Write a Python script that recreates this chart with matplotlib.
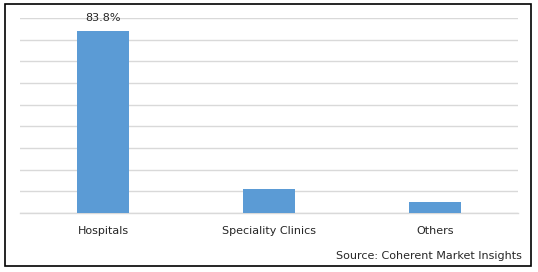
import matplotlib.pyplot as plt
from matplotlib.patches import Rectangle

categories = ["Hospitals", "Speciality Clinics", "Others"]
shares = [83.8, 11.1, 5.1]
bar_labels = ["83.8%", "", ""]

W, H = 538, 272
fig = plt.figure(figsize=(W / 100, H / 100), dpi=100)
ax = fig.add_axes([20 / W, (H - 213) / H, 498 / W, 195 / H])

x = range(len(categories))
bars = ax.bar(x, shares, width=0.313, color="#5B9BD5", zorder=2)
for b, lab in zip(bars, bar_labels):
    if lab:
        ax.text(b.get_x() + b.get_width() / 2, b.get_height() + 4.0, lab,
                ha="center", va="bottom", fontsize=8, color="#262626")

ax.set_xlim(-0.5, 2.5)
ax.set_ylim(0, 90)
ax.set_yticks(range(0, 91, 10))
ax.yaxis.grid(True, color="#D9D9D9", linewidth=1)
ax.tick_params(axis="y", left=False, labelleft=False)
ax.tick_params(axis="x", bottom=False, pad=6, labelsize=8, labelcolor="#262626")
ax.set_xticks(list(x))
ax.set_xticklabels(categories)
for s in ax.spines.values():
    s.set_visible(False)
ax.axhline(0, color="#D9D9D9", linewidth=1, zorder=1, clip_on=False)

fig.text(522 / W, (H - 256) / H, "Source: Coherent Market Insights",
         ha="right", va="center", fontsize=8, color="#262626")

fig.patches.append(Rectangle((5 / W, (H - 266) / H), 526 / W, 262 / H,
                             transform=fig.transFigure, fill=False,
                             edgecolor="black", linewidth=1.2))

fig.savefig("out.png", dpi=100)
